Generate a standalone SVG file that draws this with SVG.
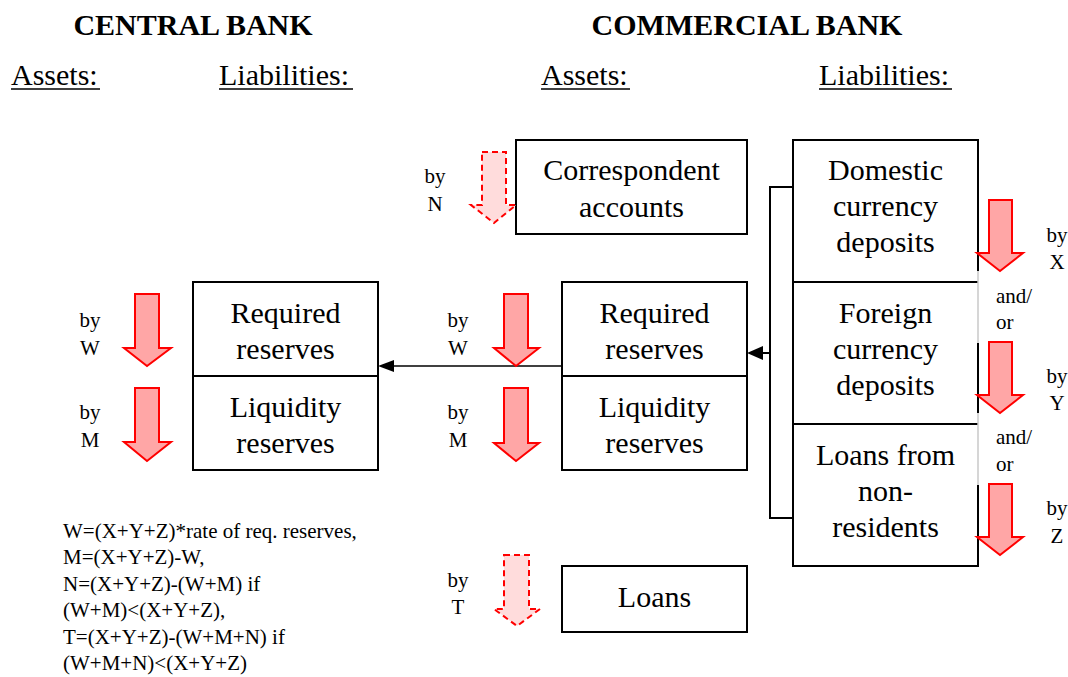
<svg xmlns="http://www.w3.org/2000/svg" width="1068" height="677" viewBox="0 0 1068 677">
<style>
.title{font-size:30px;font-weight:bold;text-anchor:middle}
.head{font-size:30px}
.box{font-size:30px;text-anchor:middle}
.lbl{font-size:21px;text-anchor:middle}
.f{font-size:21px}
.bx{fill:#fff;stroke:#000;stroke-width:2}
.ar{fill:#ffa6a6;stroke:#ff0000;stroke-width:2;stroke-linejoin:miter}
.ard{fill:#ffdcdc;stroke:#ff0000;stroke-width:2;stroke-dasharray:6 4}
.cn{fill:none;stroke:#000;stroke-width:2}
.ul{stroke:#000;stroke-width:1.5}
</style>

<g id="headers">
<text class="title" font-family="Liberation Serif" x="193" y="35">CENTRAL BANK</text>
<text class="title" font-family="Liberation Serif" x="747" y="35">COMMERCIAL BANK</text>
<text class="head" font-family="Liberation Serif" x="11" y="85">Assets:</text>
<text class="head" font-family="Liberation Serif" x="219" y="85">Liabilities:</text>
<text class="head" font-family="Liberation Serif" x="541" y="85">Assets:</text>
<text class="head" font-family="Liberation Serif" x="819" y="85">Liabilities:</text>
<line class="ul" x1="11" y1="89" x2="100" y2="89"/>
<line class="ul" x1="219" y1="89" x2="353" y2="89"/>
<line class="ul" x1="541" y1="89" x2="630" y2="89"/>
<line class="ul" x1="819" y1="89" x2="952" y2="89"/>
</g>

<g id="connectors">
<line x1="562" y1="366" x2="392" y2="366" stroke="#000" stroke-width="1.6"/>
<polygon points="378,366 394,360 394,372" fill="#000"/>
<polyline class="cn" points="793,187 770,187 770,518 793,518"/>
<line x1="770" y1="353" x2="760" y2="353" stroke="#000" stroke-width="2"/>
<polygon points="747,353 763,346 763,360" fill="#000"/>
</g>

<g id="cb-required">
<rect class="bx" x="193" y="282" width="185" height="94"/>
<text class="box" font-family="Liberation Serif" x="285.5" y="323">Required</text>
<text class="box" font-family="Liberation Serif" x="285.5" y="359">reserves</text>
</g>
<g id="cb-liquidity">
<rect class="bx" x="193" y="376" width="185" height="94"/>
<text class="box" font-family="Liberation Serif" x="285.5" y="417">Liquidity</text>
<text class="box" font-family="Liberation Serif" x="285.5" y="453">reserves</text>
</g>

<g id="correspondent">
<rect class="bx" x="516" y="140" width="231" height="94"/>
<text class="box" font-family="Liberation Serif" x="631.5" y="180">Correspondent</text>
<text class="box" font-family="Liberation Serif" x="631.5" y="217">accounts</text>
</g>
<g id="com-required">
<rect class="bx" x="562" y="282" width="185" height="94"/>
<text class="box" font-family="Liberation Serif" x="654.5" y="323">Required</text>
<text class="box" font-family="Liberation Serif" x="654.5" y="359">reserves</text>
</g>
<g id="com-liquidity">
<rect class="bx" x="562" y="376" width="185" height="94"/>
<text class="box" font-family="Liberation Serif" x="654.5" y="417">Liquidity</text>
<text class="box" font-family="Liberation Serif" x="654.5" y="453">reserves</text>
</g>
<g id="loans">
<rect class="bx" x="562" y="566" width="185" height="66"/>
<text class="box" font-family="Liberation Serif" x="654.5" y="607">Loans</text>
</g>

<g id="domestic">
<path d="M978,140 H793 V282 H978" class="cn"/>
<text class="box" font-family="Liberation Serif" x="885.5" y="180">Domestic</text>
<text class="box" font-family="Liberation Serif" x="885.5" y="216">currency</text>
<text class="box" font-family="Liberation Serif" x="885.5" y="252">deposits</text>
</g>
<g id="foreign">
<path d="M978,282 H793 V424 H978" class="cn"/>
<text class="box" font-family="Liberation Serif" x="885.5" y="323">Foreign</text>
<text class="box" font-family="Liberation Serif" x="885.5" y="359">currency</text>
<text class="box" font-family="Liberation Serif" x="885.5" y="395">deposits</text>
</g>
<g id="nonresidents">
<path d="M978,424 H793 V566 H978" class="cn"/>
<text class="box" font-family="Liberation Serif" x="885.5" y="465">Loans from</text>
<text class="box" font-family="Liberation Serif" x="885.5" y="501">non-</text>
<text class="box" font-family="Liberation Serif" x="885.5" y="537">residents</text>
</g>
<g id="right-edge">
<line x1="978" y1="140" x2="978" y2="566" stroke="#c8c8c8" stroke-width="1.5"/>
<line x1="978" y1="139" x2="978" y2="271" stroke="#000" stroke-width="2"/>
<line x1="978" y1="343" x2="978" y2="413" stroke="#000" stroke-width="2"/>
<line x1="978" y1="485" x2="978" y2="567" stroke="#000" stroke-width="2"/>
</g>

<g id="arrows">
<path class="ar" d="M135,294 H159 V348 H171 L147,366 L124,348 H135 Z"/>
<path class="ar" d="M135,388 H159 V442 H171 L147,461 L124,442 H135 Z"/>
<path class="ar" d="M504,294 H528 V348 H539 L516,366 L494,348 H504 Z"/>
<path class="ar" d="M504,388 H528 V443 H539 L516,461 L494,443 H504 Z"/>
<path class="ar" d="M989,200 H1012 V253 H1023 L1000,271 L977,253 H989 Z"/>
<path class="ar" d="M989,342 H1012 V395 H1023 L1000,413 L977,395 H989 Z"/>
<path class="ar" d="M989,484 H1012 V537 H1023 L1000,555 L977,537 H989 Z"/>
<path class="ard" d="M482,152 H506 V205 H516 L494,223 L471,205 H482 Z"/>
<path class="ard" d="M504,555 H529 V609 H540 L517,626 L494,609 H504 Z"/>
</g>

<g id="labels">
<text class="lbl" font-family="Liberation Serif" x="90" y="327">by</text><text class="lbl" font-family="Liberation Serif" x="90" y="355">W</text>
<text class="lbl" font-family="Liberation Serif" x="90" y="419">by</text><text class="lbl" font-family="Liberation Serif" x="90" y="447">M</text>
<text class="lbl" font-family="Liberation Serif" x="458" y="327">by</text><text class="lbl" font-family="Liberation Serif" x="458" y="355">W</text>
<text class="lbl" font-family="Liberation Serif" x="458" y="419">by</text><text class="lbl" font-family="Liberation Serif" x="458" y="447">M</text>
<text class="lbl" font-family="Liberation Serif" x="435" y="183">by</text><text class="lbl" font-family="Liberation Serif" x="435" y="211">N</text>
<text class="lbl" font-family="Liberation Serif" x="458" y="587">by</text><text class="lbl" font-family="Liberation Serif" x="458" y="614">T</text>
<text class="lbl" font-family="Liberation Serif" x="1057" y="242">by</text><text class="lbl" font-family="Liberation Serif" x="1057" y="269">X</text>
<text class="lbl" font-family="Liberation Serif" x="1057" y="383">by</text><text class="lbl" font-family="Liberation Serif" x="1057" y="410">Y</text>
<text class="lbl" font-family="Liberation Serif" x="1057" y="515">by</text><text class="lbl" font-family="Liberation Serif" x="1057" y="543">Z</text>
<text class="f" font-family="Liberation Serif" x="996" y="303">and/</text><text class="f" font-family="Liberation Serif" x="996" y="329">or</text>
<text class="f" font-family="Liberation Serif" x="996" y="444">and/</text><text class="f" font-family="Liberation Serif" x="996" y="471">or</text>
</g>

<g id="formula">
<text class="f" font-family="Liberation Serif" x="63" y="538">W=(X+Y+Z)*rate of req. reserves,</text>
<text class="f" font-family="Liberation Serif" x="63" y="564">M=(X+Y+Z)-W,</text>
<text class="f" font-family="Liberation Serif" x="63" y="591">N=(X+Y+Z)-(W+M) if</text>
<text class="f" font-family="Liberation Serif" x="63" y="617">(W+M)&lt;(X+Y+Z),</text>
<text class="f" font-family="Liberation Serif" x="63" y="644">T=(X+Y+Z)-(W+M+N) if</text>
<text class="f" font-family="Liberation Serif" x="63" y="670">(W+M+N)&lt;(X+Y+Z)</text>
</g>
</svg>
